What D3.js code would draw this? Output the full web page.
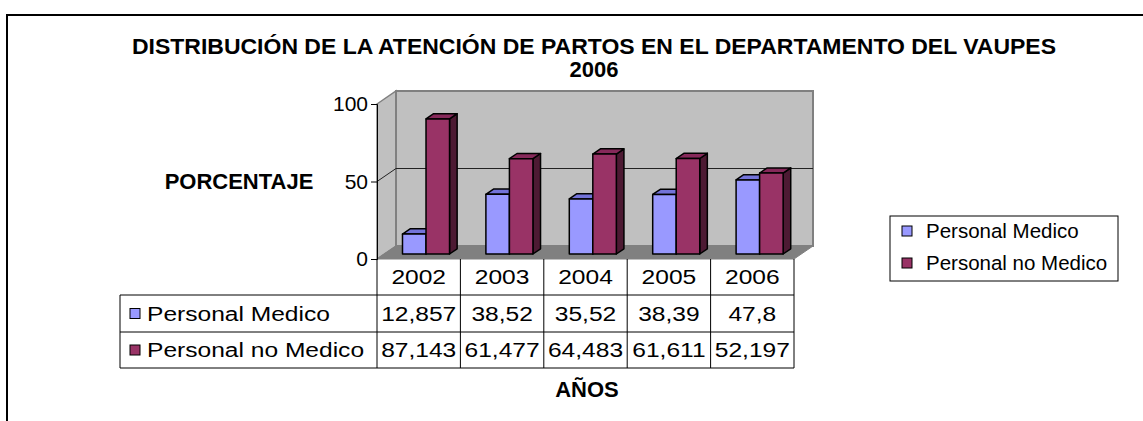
<!DOCTYPE html>
<html>
<head>
<meta charset="utf-8">
<script src="https://cdn.jsdelivr.net/npm/d3@7"></script>
<style>
  body { margin: 0; background: #fff; }
  text { font-family: "Liberation Sans", Arial, sans-serif; fill: #000; }
</style>
</head>
<body>
<svg id="chart" width="1143" height="421"></svg>
<script>
const years = ["2002", "2003", "2004", "2005", "2006"];
const seriesNames = ["Personal Medico", "Personal no Medico"];
const medico = [12.857, 38.52, 35.52, 38.39, 47.8];
const noMedico = [87.143, 61.477, 64.483, 61.611, 52.197];
const yTicks = [0, 50, 100];
const colors = ["#9999FF", "#993366"];
const topColors = ["#7373D9", "#86295A"];
const sideColors = ["#4D4D80", "#4D1A33"];

const svg = d3.select("#chart");

// outer frame (runs off the right and bottom of the picture)
svg.append("rect")
  .attr("x", 7).attr("y", 15)
  .attr("width", 1160).attr("height", 430)
  .attr("fill", "none").attr("stroke", "#000").attr("stroke-width", 2);

// 3D box: front plane + depth offset
const plotLeft = 377, plotRight = 794, plotBottom = 259, plotTop = 104;
const DX = 19, DY = -13;

const x = d3.scaleBand().domain(years).range([plotLeft, plotRight]).paddingInner(0.436).paddingOuter(0.218);
const xCol = d3.scaleBand().domain(years).range([plotLeft, plotRight]);
const xs = d3.scaleBand().domain([0, 1]).range([0, x.bandwidth()]);
const y = d3.scaleLinear().domain([0, 100]).range([plotBottom, plotTop]);

const pt = (px, py, d) => [px + d * DX, py + d * DY];
const poly = (pts) => pts.map(p => p.join(",")).join(" ");

// left wall
svg.append("polygon")
  .attr("points", poly([pt(plotLeft, y(100), 0), pt(plotLeft, y(100), 1), pt(plotLeft, y(0), 1), pt(plotLeft, y(0), 0)]))
  .attr("fill", "#C0C0C0").attr("stroke", "#808080").attr("stroke-width", 1.5);
// back wall
svg.append("polygon")
  .attr("points", poly([pt(plotLeft, y(100), 1), pt(plotRight, y(100), 1), pt(plotRight, y(0), 1), pt(plotLeft, y(0), 1)]))
  .attr("fill", "#C0C0C0").attr("stroke", "#808080").attr("stroke-width", 2);
// floor
svg.append("polygon")
  .attr("points", poly([pt(plotLeft, y(0), 0), pt(plotRight, y(0), 0), pt(plotRight, y(0), 1), pt(plotLeft, y(0), 1)]))
  .attr("fill", "#808080").attr("stroke", "#808080").attr("stroke-width", 1);

// gridlines (interior ticks only)
yTicks.filter(t => t > 0 && t < 100).forEach(t => {
  svg.append("polyline")
    .attr("points", poly([pt(plotLeft, y(t), 0), pt(plotLeft, y(t), 1), pt(plotRight, y(t), 1)]))
    .attr("fill", "none").attr("stroke", "#222").attr("stroke-width", 1);
});

// y axis
const yAxis = d3.axisLeft(y).tickValues(yTicks).tickSize(6).tickPadding(3);
const yg = svg.append("g").attr("transform", `translate(${plotLeft},0)`).call(yAxis);
yg.select(".domain").attr("stroke", "#000");
yg.selectAll(".tick line").attr("stroke", "#000");
yg.selectAll(".tick text").attr("font-size", 21).attr("font-family", "Liberation Sans, Arial").attr("fill", "#000");

// bars
const d0 = 0.385, d1 = 0.785;
const data = [];
years.forEach((yr, i) => {
  [medico[i], noMedico[i]].forEach((v, j) => data.push({ year: yr, s: j, v: v }));
});

const bars = svg.append("g").selectAll("g").data(data).join("g");
bars.each(function (d) {
  const g = d3.select(this);
  const x0 = x(d.year) + xs(d.s), x1 = x0 + xs.bandwidth();
  const yT = y(d.v), yB = y(0);
  const fTL = pt(x0, yT, d0), fTR = pt(x1, yT, d0), fBR = pt(x1, yB, d0), fBL = pt(x0, yB, d0);
  const bTL = pt(x0, yT, d1), bTR = pt(x1, yT, d1), bBR = pt(x1, yB, d1);
  g.append("polygon").attr("points", poly([fTR, bTR, bBR, fBR]))
    .attr("fill", sideColors[d.s]).attr("stroke", "#000").attr("stroke-width", 1.5).attr("stroke-linejoin", "round");
  g.append("polygon").attr("points", poly([fTL, fTR, bTR, bTL]))
    .attr("fill", topColors[d.s]).attr("stroke", "#000").attr("stroke-width", 1.5).attr("stroke-linejoin", "round");
  g.append("polygon").attr("points", poly([fTL, fTR, fBR, fBL]))
    .attr("fill", colors[d.s]).attr("stroke", "#000").attr("stroke-width", 1.5).attr("stroke-linejoin", "round");
});

// data table
const tableLeft = 120;
const rowY = [plotBottom, 295, 332, 368];
const fmt = v => String(v).replace(".", ",");
const SX = 1.17; // table text is drawn a bit wide

const tbl = svg.append("g").attr("stroke", "#000").attr("stroke-width", 1);
tbl.append("line").attr("x1", plotLeft).attr("x2", plotLeft).attr("y1", plotBottom).attr("y2", rowY[3]);
years.forEach(yr => {
  tbl.append("line").attr("x1", xCol(yr) + xCol.bandwidth()).attr("x2", xCol(yr) + xCol.bandwidth())
    .attr("y1", plotBottom).attr("y2", rowY[3]);
});
tbl.append("line").attr("x1", tableLeft).attr("x2", tableLeft).attr("y1", rowY[1]).attr("y2", rowY[3]);
[1, 2, 3].forEach(k => {
  tbl.append("line").attr("x1", tableLeft).attr("x2", plotRight).attr("y1", rowY[k]).attr("y2", rowY[k]);
});

svg.append("g").selectAll("text").data(years).join("text")
  .attr("transform", d => `translate(${xCol(d) + xCol.bandwidth() / 2},${(rowY[0] + rowY[1]) / 2}) scale(${SX},1)`)
  .attr("dy", "0.35em").attr("text-anchor", "middle").attr("font-size", 21)
  .text(d => d);

[medico, noMedico].forEach((vals, j) => {
  const cy = (rowY[j + 1] + rowY[j + 2]) / 2;
  svg.append("rect").attr("x", 130).attr("y", cy - 5).attr("width", 10).attr("height", 10)
    .attr("fill", colors[j]).attr("stroke", "#000").attr("stroke-width", 1);
  svg.append("text").attr("transform", `translate(147,${cy}) scale(${SX},1)`)
    .attr("dy", "0.35em").attr("font-size", 21).text(seriesNames[j]);
  svg.append("g").selectAll("text").data(vals).join("text")
    .attr("transform", (d, i) => `translate(${xCol(years[i]) + xCol.bandwidth() / 2},${cy}) scale(${SX},1)`)
    .attr("dy", "0.35em").attr("text-anchor", "middle").attr("font-size", 21)
    .text(d => fmt(d));
});

// titles
svg.append("text").attr("x", 594).attr("y", 46).attr("dy", "0.35em").attr("text-anchor", "middle")
  .attr("font-size", 22).attr("font-weight", "bold")
  .attr("textLength", 924).attr("lengthAdjust", "spacingAndGlyphs")
  .text("DISTRIBUCIÓN DE LA ATENCIÓN DE PARTOS EN EL DEPARTAMENTO DEL VAUPES");
svg.append("text").attr("x", 594).attr("y", 69).attr("dy", "0.35em").attr("text-anchor", "middle")
  .attr("font-size", 22).attr("font-weight", "bold").text("2006");
svg.append("text").attr("x", 239).attr("y", 181).attr("dy", "0.35em").attr("text-anchor", "middle")
  .attr("font-size", 22).attr("font-weight", "bold").text("PORCENTAJE");
svg.append("text").attr("x", 587).attr("y", 389).attr("dy", "0.35em").attr("text-anchor", "middle")
  .attr("font-size", 22).attr("font-weight", "bold").text("AÑOS");

// legend
const lg = svg.append("g");
lg.append("rect").attr("x", 890).attr("y", 216).attr("width", 228).attr("height", 65)
  .attr("fill", "#fff").attr("stroke", "#000").attr("stroke-width", 1);
seriesNames.forEach((name, j) => {
  const cy = 231 + j * 32;
  lg.append("rect").attr("x", 902).attr("y", cy - 5).attr("width", 10).attr("height", 10)
    .attr("fill", colors[j]).attr("stroke", "#000").attr("stroke-width", 1);
  lg.append("text").attr("x", 926).attr("y", cy).attr("dy", "0.35em").attr("font-size", 20.5).text(name);
});
</script>
</body>
</html>
